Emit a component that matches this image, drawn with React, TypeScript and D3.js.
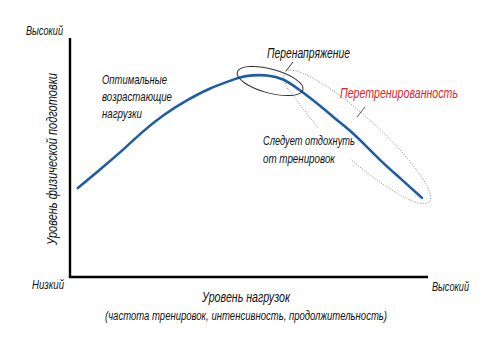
import React from "react";
import * as d3 from "d3";

// ---- data ----
const loadLevel: number[] = [2.2, 9.2, 14.8, 20.1, 26.0, 32.7, 39.1, 43.9, 47.5, 50.8, 55.0, 59.5, 64.2, 69.0, 73.5, 78.2, 83.0, 87.4, 92.2, 98.3];
const fitnessLevel: number[] = [37.2, 46.0, 53.1, 60.7, 67.8, 74.1, 79.1, 81.6, 83.7, 84.5, 84.5, 83.3, 78.2, 72.8, 66.9, 61.5, 54.4, 47.7, 41.4, 33.1];
const axisEndLabels: string[] = ["Высокий", "Низкий", "Высокий"];
const xTitle = "Уровень нагрузок";
const xSubtitle = "(частота тренировок, интенсивность, продолжительность)";
const yTitle = "Уровень физической подготовки";
const optimalLines: string[] = ["Оптимальные", "возрастающие", "нагрузки"];
const overstrainLabel = "Перенапряжение";
const overtrainLabel = "Перетренированность";
const restLines: string[] = ["Следует отдохнуть", "от тренировок"];
// annotation ellipse centres in data units
const overstrainCenter: [number, number] = [55.9, 82.0];
const overtrainCenter: [number, number] = [80.2, 58.6];

const W = 499;
const H = 346;
const FONT = "'Liberation Sans', Arial, sans-serif";

export default function App() {
  const x = d3.scaleLinear().domain([0, 100]).range([70, 428]);
  const y = d3.scaleLinear().domain([0, 100]).range([277, 38]);

  const pts: [number, number][] = loadLevel.map((v, i) => [v, fitnessLevel[i]]);
  const curve = d3
    .line<[number, number]>()
    .x((d) => x(d[0]))
    .y((d) => y(d[1]))
    .curve(d3.curveBasis)(pts) as string;

  // dotted ellipse (open arc)
  const cx2 = x(overtrainCenter[0]);
  const cy2 = y(overtrainCenter[1]);
  const a2 = 97;
  const b2 = 21;
  const th = (42 * Math.PI) / 180;
  const e1 = [Math.cos(th), Math.sin(th)];
  const e2 = [-Math.sin(th), Math.cos(th)];
  const ell = (t: number): [number, number] => {
    const r = (t * Math.PI) / 180;
    const u = a2 * Math.cos(r);
    const v = b2 * Math.sin(r);
    return [cx2 + u * e1[0] + v * e2[0], cy2 + u * e1[1] + v * e2[1]];
  };
  const arcPts = d3.range(150, 446, 2).map(ell);
  const arcPath = d3.line().curve(d3.curveLinear)(arcPts) as string;
  const pStart = ell(150);

  const cx1 = x(overstrainCenter[0]);
  const cy1 = y(overstrainCenter[1]);

  const it: React.CSSProperties = { fontFamily: FONT, fontStyle: "italic" };
  const ink = "#111";

  return (
    <svg width={W} height={H} style={{ position: "absolute", left: 0, top: 0, background: "#fff" }}>
      <rect width={W} height={H} fill="#fff" />
      {/* axes */}
      <line x1={x(0)} y1={y(0)} x2={x(0)} y2={y(100)} stroke="#000" strokeWidth={2.4} />
      <line x1={x(0) - 1.2} y1={y(0)} x2={x(100)} y2={y(0)} stroke="#000" strokeWidth={2.4} />

      {/* axis end labels */}
      <text x={26} y={35} style={it} fill={ink} fontSize={12.5} textLength={37} lengthAdjust="spacingAndGlyphs">{axisEndLabels[0]}</text>
      <text x={32} y={289} style={it} fill={ink} fontSize={12.5} textLength={32} lengthAdjust="spacingAndGlyphs">{axisEndLabels[1]}</text>
      <text x={432} y={291} style={it} fill={ink} fontSize={12.5} textLength={37} lengthAdjust="spacingAndGlyphs">{axisEndLabels[2]}</text>

      {/* titles */}
      <text x={202} y={302} style={it} fill={ink} fontSize={14.5} textLength={88} lengthAdjust="spacingAndGlyphs">{xTitle}</text>
      <text x={105} y={320} style={it} fill={ink} fontSize={12.5} textLength={282} lengthAdjust="spacingAndGlyphs">{xSubtitle}</text>
      <text
        transform={`translate(57,245) rotate(-90)`}
        style={it}
        fill={ink}
        fontSize={14.5}
        textLength={172}
        lengthAdjust="spacingAndGlyphs"
      >
        {yTitle}
      </text>

      {/* optimal loads label */}
      {optimalLines.map((s, i) => (
        <text key={s} x={102} y={84 + i * 17} style={it} fill={ink} fontSize={13.5} textLength={[65, 70, 40][i]} lengthAdjust="spacingAndGlyphs">
          {s}
        </text>
      ))}

      {/* dotted overtraining ellipse */}
      <path d={arcPath} fill="none" stroke="#7a7a7a" strokeWidth={0.9} strokeDasharray="1,1.6" />
      <line x1={pStart[0]} y1={pStart[1]} x2={318} y2={128} stroke="#7a7a7a" strokeWidth={0.9} strokeDasharray="1,1.6" />

      {/* main curve */}
      <path d={curve} fill="none" stroke="#1f5ca3" strokeWidth={2.6} strokeLinecap="round" />

      {/* solid overstrain ellipse */}
      <ellipse
        cx={cx1}
        cy={cy1}
        rx={34}
        ry={12}
        transform={`rotate(15 ${cx1} ${cy1})`}
        fill="none"
        stroke="#333"
        strokeWidth={1}
      />
      <line x1={286} y1={71} x2={293} y2={62} stroke="#333" strokeWidth={1} />
      <text x={267} y={58} style={it} fill={ink} fontSize={14} textLength={83} lengthAdjust="spacingAndGlyphs">{overstrainLabel}</text>

      {/* overtraining */}
      <line x1={357} y1={117} x2={365} y2={107} stroke="#555" strokeWidth={1} />
      <text x={340} y={98} style={it} fontSize={14} fill="#e3212b" textLength={118} lengthAdjust="spacingAndGlyphs">{overtrainLabel}</text>

      {restLines.map((s, i) => (
        <text key={s} x={263} y={145 + i * 18} style={it} fill={ink} fontSize={13.5} textLength={[92, 72][i]} lengthAdjust="spacingAndGlyphs">
          {s}
        </text>
      ))}
    </svg>
  );
}
